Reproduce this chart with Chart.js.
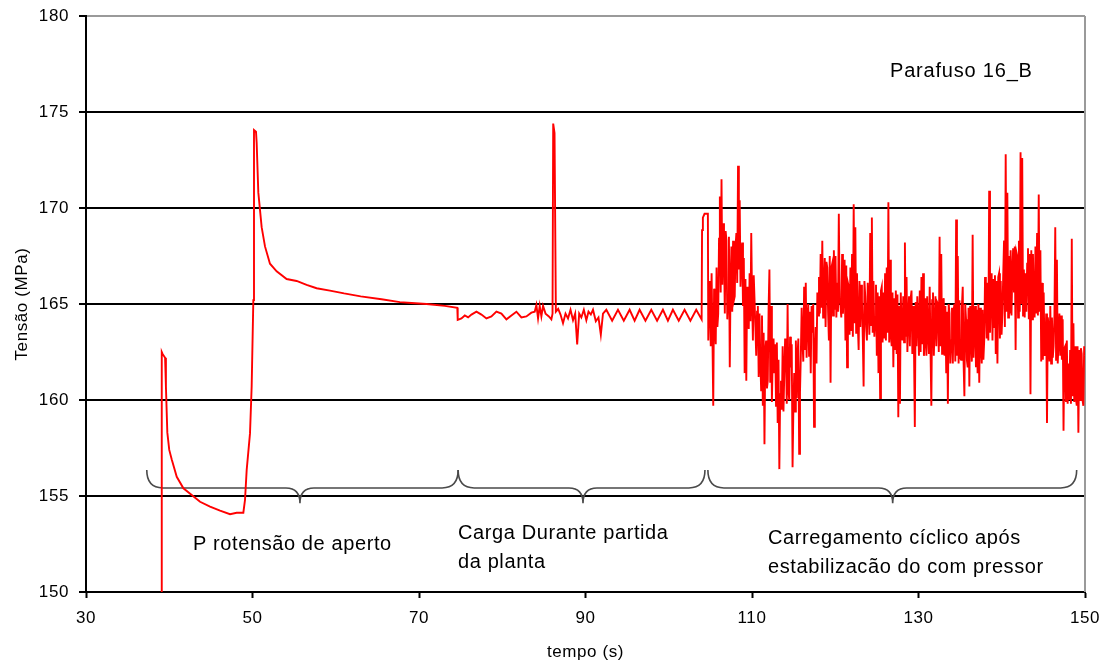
<!DOCTYPE html>
<html>
<head>
<meta charset="utf-8">
<script src="https://cdn.jsdelivr.net/npm/chart.js@4"></script>
<style>
  html, body { margin: 0; padding: 0; background: #fff; }
  #wrap { width: 1107px; height: 668px; }
</style>
</head>
<body>
<div id="wrap"><canvas id="c" width="1107" height="668"></canvas></div>
<script>
// Bolt 16_B stress record: tightening, plant start-up, cyclic loading.

// Tightening and relaxation (s, MPa)
const tighteningTime = [39.05, 39.1, 39.2, 39.5, 39.6, 39.77, 40.0, 40.3, 40.9, 41.7,
  42.7, 43.7, 44.9, 46.1, 47.3, 48.1, 48.9, 49.1, 49.3, 49.7,
  49.9, 50.1, 50.18, 50.42, 50.5, 50.7, 51.1, 51.5, 52.1, 52.9,
  54.1, 55.3, 56.5, 57.7, 59.3, 61.0, 63.0, 65.5, 67.7, 69.1,
  70.9, 73.1, 74.6];
const tighteningStress = [150, 162.5, 162.4, 162.2, 160.7, 158.3, 157.4, 156.9, 156.0, 155.4,
  155.05, 154.7, 154.45, 154.24, 154.05, 154.13, 154.13, 154.8, 156.35, 158.26,
  160.7, 165.2, 174.06, 173.97, 173.4, 170.8, 169.0, 168.0, 167.1, 166.7,
  166.3, 166.2, 166.0, 165.82, 165.7, 165.55, 165.4, 165.25, 165.1, 165.05,
  165.0, 164.9, 164.8];

// Plant start-up (s, MPa)
const startupTime = [74.65, 75.1, 75.5, 75.9, 76.3, 76.9, 77.5, 78.1, 78.7, 79.3,
  79.9, 80.5, 81.1, 81.7, 82.3, 82.9, 83.5, 83.9, 84.1, 84.3,
  84.5, 84.7, 84.9, 85.2, 85.6, 85.9, 86.04, 86.12, 86.28, 86.44,
  86.72, 87.0, 87.3, 87.6, 87.9, 88.2, 88.5, 88.76, 89.0, 89.24,
  89.5, 89.8, 90.1, 90.36, 90.64, 90.9, 91.24, 91.56, 91.84, 92.1,
  92.5, 93.2, 93.9, 94.6, 95.3, 95.9, 96.5, 97.2, 97.9, 98.6,
  99.3, 99.9, 100.5, 101.2, 101.9, 102.6, 103.3, 103.95, 104.0, 104.1,
  104.3, 104.7];
const startupStress = [164.17, 164.25, 164.4, 164.3, 164.45, 164.6, 164.45, 164.25, 164.35, 164.6,
  164.5, 164.2, 164.4, 164.6, 164.3, 164.35, 164.55, 164.6, 164.95, 164.25,
  164.9, 164.35, 164.9, 164.5, 164.35, 164.2, 164.5, 174.4, 173.9, 164.6,
  164.75, 164.45, 164.0, 164.5, 164.25, 164.7, 164.15, 164.5, 162.9, 164.5,
  164.3, 164.7, 164.15, 164.6, 164.45, 164.7, 164.1, 164.3, 163.4, 164.5,
  164.7, 164.13, 164.7, 164.13, 164.7, 164.13, 164.7, 164.13, 164.7, 164.13,
  164.7, 164.13, 164.7, 164.13, 164.7, 164.13, 164.7, 164.2, 168.85, 169.5,
  169.7, 169.7];

// Cyclic loading after compressor stabilisation, evenly sampled from
// cyclicStart to cyclicEnd; cyclicStressMid holds the samples taken
// half a step after each entry of cyclicStress.
const cyclicStart = 104.75;
const cyclicEnd = 150.0;
const cyclicStress = [
  163.1, 164.9, 166.6, 159.7, 164.3, 166.9, 164.5, 170.6, 171.5, 169.2,
  164.5, 168.3, 165.4, 161.7, 168.0, 168.3, 165.4, 168.7, 172.2, 170.4,
  167.6, 164.9, 161.4, 161.0, 164.0, 166.6, 168.7, 163.1, 165.2, 162.3,
  164.9, 164.5, 160.5, 159.7, 157.7, 163.1, 161.0, 166.8, 164.9, 162.3,
  161.4, 159.7, 158.8, 156.4, 161.0, 162.8, 161.4, 162.4, 165.0, 160.0,
  161.7, 156.5, 161.4, 163.1, 162.3, 157.2, 162.3, 163.1, 165.9, 166.1,
  164.3, 162.3, 161.4, 163.5, 158.6, 163.8, 165.6, 166.4, 167.6, 168.3,
  165.9, 163.8, 166.9, 163.1, 160.9, 167.1, 167.8, 167.5, 166.1, 169.7,
  164.9, 167.6, 165.7, 163.1, 161.7, 165.9, 166.9, 167.6, 170.2, 169.0,
  166.6, 162.6, 163.8, 165.2, 160.7, 165.4, 163.1, 165.0, 168.7, 169.5,
  166.2, 164.3, 162.3, 161.4, 160.1, 165.9, 165.6, 166.6, 166.9, 170.3,
  167.3, 162.8, 161.7, 162.6, 162.4, 159.1, 159.8, 163.6, 165.4, 168.2,
  166.4, 164.3, 162.8, 165.7, 164.9, 158.6, 162.8, 164.2, 165.7, 166.4,
  166.6, 163.1, 162.3, 163.5, 165.9, 159.7, 165.6, 164.0, 162.8, 165.0,
  168.5, 167.6, 165.0, 162.3, 161.4, 159.8, 164.5, 163.1, 161.9, 165.0,
  169.4, 167.5, 165.2, 162.1, 165.9, 160.2, 164.2, 161.7, 160.7, 163.5,
  168.6, 163.8, 161.7, 161.4, 160.9, 162.8, 164.7, 163.1, 165.2, 166.1,
  170.9, 165.7, 163.1, 163.8, 162.4, 161.9, 166.6, 166.2, 164.5, 168.3,
  172.8, 170.8, 167.5, 167.8, 166.6, 165.6, 162.6, 167.5, 168.3, 172.9,
  172.6, 166.8, 166.6, 167.1, 164.2, 160.3, 164.2, 164.9, 168.0, 168.7,
  170.7, 167.8, 166.1, 165.6, 162.6, 158.8, 163.8, 164.9, 164.3, 162.8,
  169.0, 167.3, 163.1, 162.3, 162.1, 158.4, 162.8, 163.1, 161.9, 162.6,
  168.4, 164.0, 162.8, 159.7, 158.3, 160.0, 162.4, 159.7, 162.3
];
const cyclicStressMid = [
  166.2, 162.8, 163.4, 165.8, 162.9, 163.8, 168.4, 165.6, 166.0, 167.9,
  168.8, 164.2, 168.5, 166.2, 164.6, 165.2, 168.0, 166.1, 166.8, 165.9,
  168.2, 167.4, 166.3, 165.9, 163.7, 164.1, 165.2, 166.5, 163.8, 164.6,
  161.2, 162.0, 164.4, 163.5, 162.6, 160.6, 164.8, 160.9, 159.9, 163.2,
  162.9, 163.0, 162.1, 160.3, 159.5, 159.4, 163.2, 159.8, 160.5, 163.3,
  162.9, 159.6, 159.4, 160.1, 163.2, 160.4, 164.8, 162.0, 162.6, 162.2,
  165.0, 164.6, 164.9, 165.0, 162.3, 161.9, 164.4, 164.5, 164.8, 164.3,
  167.4, 167.2, 164.6, 167.5, 166.9, 164.4, 164.7, 164.3, 164.6, 165.2,
  164.3, 164.5, 167.3, 167.0, 166.1, 163.4, 163.6, 163.3, 164.0, 163.5,
  163.9, 166.2, 166.0, 163.3, 166.2, 163.8, 166.1, 163.4, 163.9, 163.5,
  163.3, 166.0, 165.6, 165.4, 165.7, 163.0, 163.2, 163.1, 163.5, 163.0,
  163.4, 165.6, 165.3, 165.7, 165.5, 164.9, 165.6, 163.1, 163.0, 163.3,
  162.5, 165.4, 165.3, 162.4, 162.6, 165.1, 165.4, 162.3, 162.5, 162.9,
  162.3, 165.3, 165.4, 162.4, 162.6, 165.2, 162.3, 165.4, 165.1, 162.5,
  162.8, 162.4, 165.3, 164.9, 164.6, 165.0, 161.9, 164.8, 164.7, 162.0,
  162.3, 161.9, 162.2, 164.9, 162.0, 165.0, 162.1, 164.8, 164.9, 162.0,
  162.2, 164.9, 164.7, 165.0, 164.8, 161.9, 162.1, 166.4, 163.2, 163.1,
  163.5, 166.6, 166.3, 166.5, 166.2, 166.4, 163.2, 163.4, 166.5, 163.8,
  164.6, 164.3, 164.5, 164.4, 167.9, 168.0, 167.7, 164.3, 164.6, 165.0,
  164.4, 164.3, 164.6, 167.9, 167.6, 167.8, 167.6, 164.3, 164.5, 164.4,
  164.6, 162.0, 162.1, 162.3, 164.5, 164.3, 162.0, 161.9, 162.2, 164.4,
  162.1, 161.9, 164.5, 164.4, 164.2, 162.7, 159.9, 159.8, 160.0, 159.8,
  160.2, 159.9, 160.1, 162.8, 162.6, 162.7, 160.0, 162.8
];

// Axis ticks
const xTicks = [30, 50, 70, 90, 110, 130, 150];
const yTicks = [150, 155, 160, 165, 170, 175, 180];

// Phase labels and the braces above them (time span and brace tip, s)
const phaseSpans = [
  { from: 37.3, to: 74.7, tip: 55.7 },
  { from: 74.7, to: 104.35, tip: 89.7 },
  { from: 104.7, to: 149.0, tip: 126.9 }
];
const phaseLabels = [
  { t: 42.85, v: 152.45, lines: ['P rotensão de aperto'] },
  { t: 74.69, v: 153.07, lines: ['Carga Durante partida', 'da planta'] },
  { t: 111.92, v: 152.81, lines: ['Carregamento cíclico após', 'estabilizacão do com pressor'] }
];
const seriesLabel = { t: 126.58, v: 177.1, text: 'Parafuso 16_B' };

const FONT = "'Liberation Sans', Arial, sans-serif";

// assemble the record as {x, y} points
const points = [];
tighteningTime.forEach((t, i) => points.push({ x: t, y: tighteningStress[i] }));
startupTime.forEach((t, i) => points.push({ x: t, y: startupStress[i] }));
const dt = (cyclicEnd - cyclicStart) / (cyclicStress.length - 1);
cyclicStress.forEach((v, i) => {
  points.push({ x: cyclicStart + i * dt, y: v });
  if (i < cyclicStressMid.length) {
    points.push({ x: cyclicStart + (i + 0.5) * dt, y: cyclicStressMid[i] });
  }
});

function drawBrace(ctx, x1, x2, xm, yTop, yBody, yTip) {
  const r = 16, r2 = 14;
  ctx.beginPath();
  ctx.moveTo(x1, yTop);
  ctx.quadraticCurveTo(x1, yBody, x1 + r, yBody);
  ctx.lineTo(xm - r2, yBody);
  ctx.quadraticCurveTo(xm, yBody, xm, yTip);
  ctx.quadraticCurveTo(xm, yBody, xm + r2, yBody);
  ctx.lineTo(x2 - r, yBody);
  ctx.quadraticCurveTo(x2, yBody, x2, yTop);
  ctx.stroke();
}

const decorations = {
  id: 'decorations',
  beforeDraw(chart) {
    chart.ctx.letterSpacing = '0.6px';
  },
  beforeDatasetsDraw(chart) {
    const { ctx, chartArea: a, scales: { x, y } } = chart;
    ctx.save();
    // right frame edge
    ctx.strokeStyle = '#9a9a9a';
    ctx.lineWidth = 2;
    ctx.beginPath();
    ctx.moveTo(a.right, a.top);
    ctx.lineTo(a.right, a.bottom);
    ctx.stroke();
    // phase braces
    ctx.strokeStyle = '#4a4a4a';
    ctx.lineWidth = 1.6;
    const yTop = y.getPixelForValue(156.35);
    const yBody = y.getPixelForValue(155.42);
    const yTip = y.getPixelForValue(154.62);
    phaseSpans.forEach(b => drawBrace(ctx,
      x.getPixelForValue(b.from), x.getPixelForValue(b.to), x.getPixelForValue(b.tip),
      yTop, yBody, yTip));
    ctx.restore();
  },
  afterDraw(chart) {
    const { ctx, scales: { x, y } } = chart;
    ctx.save();
    ctx.fillStyle = '#000';
    ctx.textAlign = 'left';
    ctx.textBaseline = 'middle';
    ctx.font = '20px ' + FONT;
    ctx.letterSpacing = '0.6px';
    const lineGap = 29;
    phaseLabels.forEach(p => {
      const x0 = x.getPixelForValue(p.t);
      const yc = y.getPixelForValue(p.v);
      p.lines.forEach((s, i) => ctx.fillText(s, x0, yc + i * lineGap));
    });
    ctx.letterSpacing = '0.8px';
    ctx.fillText(seriesLabel.text, x.getPixelForValue(seriesLabel.t), y.getPixelForValue(seriesLabel.v));
    ctx.restore();
    ctx.letterSpacing = '0px';
  }
};

new Chart(document.getElementById('c'), {
  type: 'line',
  data: {
    datasets: [{
      data: points,
      borderColor: '#ff0000',
      borderWidth: 1.9,
      pointRadius: 0,
      tension: 0,
      fill: false
    }]
  },
  options: {
    responsive: false,
    animation: false,
    layout: { padding: { left: 0, right: 22, top: 16, bottom: 0 } },
    plugins: { legend: { display: false }, tooltip: { enabled: false } },
    scales: {
      x: {
        type: 'linear',
        min: 30, max: 150,
        afterBuildTicks(s) { s.ticks = xTicks.map(v => ({ value: v })); },
        ticks: { color: '#000', font: { family: FONT, size: 17 }, padding: 10, maxRotation: 0 },
        grid: { drawOnChartArea: false, drawTicks: true, tickLength: 6, tickColor: '#000', tickWidth: 2 },
        border: { color: '#000', width: 2 },
        title: { display: true, text: 'tempo (s)', color: '#000',
                 font: { family: FONT, size: 17 }, padding: { top: 0, bottom: 5 } },
        afterFit(s) { s.height = 76; s.paddingLeft = 0; s.paddingRight = 0; }
      },
      y: {
        type: 'linear',
        min: 150, max: 180,
        afterBuildTicks(s) { s.ticks = yTicks.map(v => ({ value: v })); },
        ticks: { color: '#000', font: { family: FONT, size: 17 }, padding: 10 },
        grid: {
          color: c => (c.tick && c.tick.value === 180) ? '#9a9a9a' : '#000',
          lineWidth: 2, tickLength: 7, tickColor: '#000', tickWidth: 2
        },
        border: { color: '#000', width: 2 },
        title: { display: true, text: 'Tensão (MPa)', color: '#000',
                 font: { family: FONT, size: 17 }, padding: { top: 12, bottom: 0 } },
        afterFit(s) { s.width = 86; s.paddingTop = 0; s.paddingBottom = 0; }
      }
    }
  },
  plugins: [decorations]
});
</script>
</body>
</html>
